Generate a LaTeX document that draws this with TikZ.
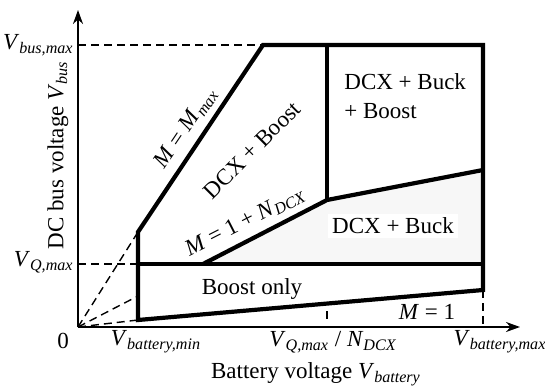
\documentclass[tikz,border=0pt]{standalone}
\usepackage{amsmath}
\usepackage{fontspec}
\setmainfont{Liberation Serif}
\usetikzlibrary{arrows.meta}
\newcommand{\sbs}[1]{$_{\textit{#1}}$}
\begin{document}
\begin{tikzpicture}[x=0.5pt,y=-0.5pt,
  every node/.style={font=\fontsize{11.5}{13}\selectfont, inner sep=0.5pt},
  bound/.style={line width=2.1pt, line join=miter},
  guide/.style={line width=1pt, dash pattern=on 4pt off 2.5pt},
  ray/.style={line width=0.7pt, dash pattern=on 4pt off 2.5pt},
  axisline/.style={line width=1pt, -{Stealth[length=7pt,width=5pt]}},
  region/.style={fill=gray!6, draw=none}]
\useasboundingbox (0,0) rectangle (545,390);
% coordinates
\coordinate (O) at (78,327);
\coordinate (ytip) at (78,10);
\coordinate (xtip) at (520,327);
\coordinate (A) at (138,232);
\coordinate (B) at (263,45);
\coordinate (C) at (483,45);
\coordinate (D) at (483,290);
\coordinate (E) at (138,320);
\coordinate (F) at (138,264);
\coordinate (G) at (483,264);
\coordinate (H) at (203,264);
\coordinate (K) at (327,200);
\coordinate (L) at (483,170);
\coordinate (T) at (327,45);
\coordinate (Vb) at (78,45);
\coordinate (Vq) at (78,264);
\coordinate (P) at (138,296);
\coordinate (tk1) at (327,311);
\coordinate (tk2) at (327,321);
\coordinate (Dx) at (483,327);
% shaded region
\fill[region] (H) -- (K) -- (L) -- (G) -- cycle;
% guides
\draw[guide] (Vb) -- (B);
\draw[guide] (Vq) -- (F);
\draw[guide] (D) -- (Dx);
\draw[guide] (tk1) -- (tk2);
\draw[ray] (O) -- (A);
\draw[ray] (O) -- (P);
\draw[ray] (O) -- (E);
% axes
\draw[axisline] (O) -- (ytip);
\draw[axisline] (O) -- (xtip);
% boundaries
\draw[bound] (E) -- (A) -- (B) -- (C) -- (D) -- cycle;
\draw[bound] (F) -- (G);
\draw[bound] (H) -- (K) -- (L);
\draw[bound] (T) -- (K);
% axis labels
\node[anchor=east] (lvb) at (75,45) {\textit{V}\sbs{bus,max}};
\node[anchor=east] (lvq) at (75,262) {\textit{V}\sbs{Q,max}};
\node (l0) at (63,341) {0};
\node (lbmin) at (156,342) {\textit{V}\sbs{battery,min}};
\node (lqn) at (333,342) {\textit{V}\sbs{Q,max} / \textit{N}\sbs{DCX}};
\node (lbmax) at (500,342) {\textit{V}\sbs{battery,max}};
\node (xlab) at (316,374) {Battery voltage \textit{V}\sbs{battery}};
\node[rotate=90] (ylab) at (58,155) {DC bus voltage \textit{V}\sbs{bus}};
% region labels
\node[rotate=56] (lmmax) at (186,128) {\textit{M} = \textit{M}\sbs{max}};
\node[rotate=45] (ldb) at (252,150) {DCX + Boost};
\node[rotate=27] (lmn) at (245,222) {\textit{M} = 1 + \textit{N}\sbs{DCX}};
\node[anchor=west] (ldbb1) at (343,82) {DCX + Buck};
\node[anchor=west] (ldbb2) at (343,111) {+ Boost};
\node[fill=white, inner sep=2pt] (ldbk) at (393,226) {DCX + Buck};
\node (lbo) at (252,289) {Boost only};
\node (lm1) at (427,312) {\textit{M} = 1};
\end{tikzpicture}
\end{document}
